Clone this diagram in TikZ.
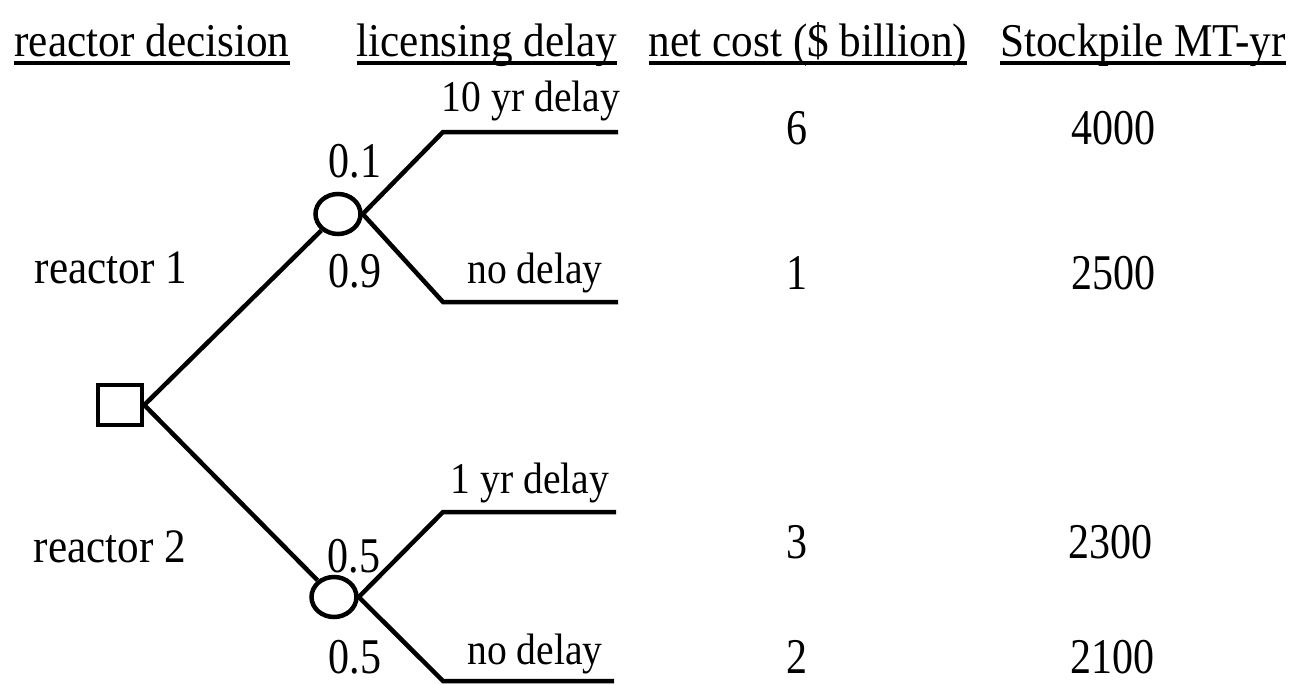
\documentclass[tikz,border=0pt]{standalone}
\usepackage{fontspec}
\setmainfont{Liberation Serif}
\newfontfamily\hdrfont[FakeStretch=0.92]{Liberation Serif}
\newfontfamily\lblfont[FakeStretch=0.9]{Liberation Serif}
\newfontfamily\numfont[FakeStretch=0.84]{Liberation Serif}
\usetikzlibrary{shapes.geometric}
\tikzset{
  edge/.style={line width=4.5pt, line join=miter, line cap=butt},
  hdr/.style={anchor=base, inner sep=0pt, font=\hdrfont\fontsize{47}{54}\selectfont},
  lbl/.style={anchor=base, inner sep=0pt, text depth=0pt, font=\lblfont\fontsize{44}{50}\selectfont},
  rlbl/.style={anchor=base, inner sep=0pt, font=\lblfont\fontsize{48}{54}\selectfont},
  num/.style={anchor=base, inner sep=0pt, text depth=0pt, font=\numfont\fontsize{50}{56}\selectfont},
  decision/.style={draw, line width=4.5pt, rectangle, minimum width=44pt, minimum height=40pt, inner sep=0pt},
  chance/.style={draw, line width=4.5pt, ellipse, minimum width=45pt, minimum height=40pt, inner sep=0pt},
  uline/.style={line width=3.5pt}
}
\begin{document}
\begin{tikzpicture}[x=1pt,y=-1pt]
\useasboundingbox (0,0) rectangle (1299,685);
% headers
\node[hdr] (h1) at (152,57) {reactor decision};
\node[hdr] (h2) at (487,57) {licensing delay};
\node[hdr] (h3) at (808,57) {net cost (\$ billion)};
\node[hdr] (h4) at (1143,57) {Stockpile MT-yr};
\foreach \h in {h1,h2,h3,h4}
  \draw[uline] ([yshift=-6pt]\h.base west) -- ([yshift=-6pt]\h.base east);
% tree nodes
\node[decision] (sq) at (120,405) {};
\node[chance] (c1) at (338,214) {};
\node[chance] (c2) at (334,597) {};
\coordinate (t1) at (443,132);
\coordinate (e1) at (618,132);
\coordinate (t2) at (443,302);
\coordinate (e2) at (618,302);
\coordinate (t3) at (443,512);
\coordinate (e3) at (616,512);
\coordinate (t4) at (443,681);
\coordinate (e4) at (614,681);
\draw[edge] (sq.east) -- (c1);
\draw[edge] (sq.east) -- (c2);
\draw[edge] (c1.east) -- (t1) -- (e1);
\draw[edge] (c1.east) -- (t2) -- (e2);
\draw[edge] (c2.east) -- (t3) -- (e3);
\draw[edge] (c2.east) -- (t4) -- (e4);
% decision labels
\node[rlbl] (r1) at (111,283) {reactor 1};
\node[rlbl] (r2) at (110,562) {reactor 2};
% probabilities
\node[num] (p1) at (355,177) {0.1};
\node[num] (p2) at (355,287) {0.9};
\node[num] (p3) at (354,572) {0.5};
\node[num] (p4) at (355,673) {0.5};
% outcome labels
\node[lbl] (o1) at (531,111) {10 yr delay};
\node[lbl] (o2) at (535,283) {no delay};
\node[lbl] (o3) at (530,493) {1 yr delay};
\node[lbl] (o4) at (535,664) {no delay};
% values
\node[num] (v1) at (797,144) {6};
\node[num] (v2) at (797,289) {1};
\node[num] (v3) at (797,558) {3};
\node[num] (v4) at (797,673) {2};
\node[num] (s1) at (1113,144) {4000};
\node[num] (s2) at (1113,289) {2500};
\node[num] (s3) at (1110,558) {2300};
\node[num] (s4) at (1112,673) {2100};
\end{tikzpicture}
\end{document}
